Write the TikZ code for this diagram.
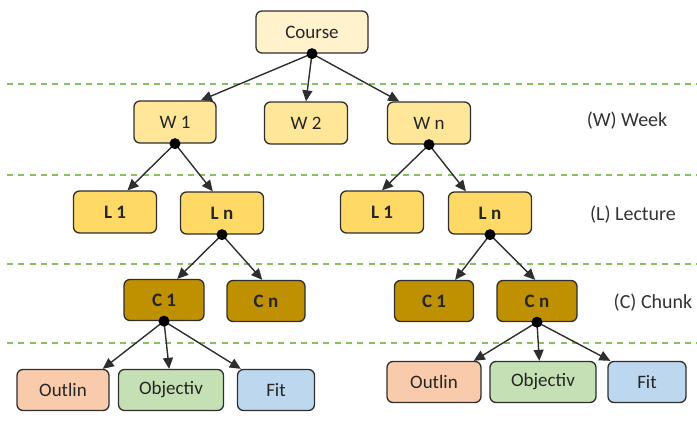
\documentclass[tikz,border=0pt]{standalone}
\usepackage{fontspec}
\setmainfont{Carlito}
\usetikzlibrary{arrows.meta}

\definecolor{coursefill}{HTML}{FFF2CC}
\definecolor{weekfill}{HTML}{FFE699}
\definecolor{lecfill}{HTML}{FFD966}
\definecolor{chunkfill}{HTML}{BF9000}
\definecolor{outlinfill}{HTML}{F8CBAD}
\definecolor{objfill}{HTML}{C5E0B4}
\definecolor{fitfill}{HTML}{BDD7EE}
\definecolor{sepgreen}{HTML}{86C061}
\definecolor{edge}{HTML}{2E2E2E}

\begin{document}
\begin{tikzpicture}[x=1pt, y=-1pt,
    box/.style={rectangle, rounded corners=6pt, draw=edge, line width=1.3pt, minimum height=42pt, inner sep=0pt, text=black!85, font=\fontsize{19}{22}\selectfont},
    small/.style={box, font=\fontsize{19}{22}\selectfont\bfseries},
    dot/.style={circle, fill=black, inner sep=0pt, minimum size=11pt},
    arr/.style={draw=edge, line width=1.4pt, -{Triangle[length=11pt, width=10pt]}},
    sep/.style={draw=sepgreen, line width=1.2pt, dash pattern=on 6pt off 5.3pt},
    lvl/.style={font=\fontsize{20}{24}\selectfont, text=black!80}]

        \useasboundingbox (0,0) rectangle (697,439);

        % level separators
        \foreach \y in {84,175,264,343}
            \draw[sep] (7,\y) -- (697,\y);

        % course and weeks
        \node[box, fill=coursefill, minimum width=112pt] (course) at (312,32) {Course};
        \node[box, fill=weekfill, minimum width=82pt] (w1) at (175,122) {W 1};
        \node[box, fill=weekfill, minimum width=83pt] (w2) at (306,123) {W 2};
        \node[box, fill=weekfill, minimum width=83pt] (wn) at (429,123) {W n};

        % lectures
        \node[small, fill=lecfill, minimum width=83pt] (l11) at (115,212) {L 1};
        \node[small, fill=lecfill, minimum width=83pt] (l1n) at (222,213) {L n};
        \node[small, fill=lecfill, minimum width=83pt] (l21) at (382,212) {L 1};
        \node[small, fill=lecfill, minimum width=83pt] (l2n) at (490,213) {L n};

        % chunks
        \node[small, fill=chunkfill, minimum width=80pt, minimum height=41pt] (c11) at (164,300) {C 1};
        \node[small, fill=chunkfill, minimum width=78pt, minimum height=41pt] (c1n) at (266,301) {C n};
        \node[small, fill=chunkfill, minimum width=79pt, minimum height=41pt] (c21) at (434,301) {C 1};
        \node[small, fill=chunkfill, minimum width=80pt, minimum height=41pt] (c2n) at (537,301) {C n};

        % chunk parts
        \node[box, fill=outlinfill, minimum width=92pt, minimum height=41pt] (o1) at (63,390) {Outlin};
        \node[box, fill=objfill, minimum width=105pt, minimum height=41pt] (b1) at (171,390) {Objectiv};
        \node[box, fill=fitfill, minimum width=77pt, minimum height=41pt] (f1) at (276,390) {Fit};
        \node[box, fill=outlinfill, minimum width=94pt, minimum height=41pt] (o2) at (434,382) {Outlin};
        \node[box, fill=objfill, minimum width=106pt, minimum height=41pt] (b2) at (543,382) {Objectiv};
        \node[box, fill=fitfill, minimum width=78pt, minimum height=41pt] (f2) at (647,382) {Fit};

        % level labels
        \node[lvl] (week) at (627,121) {(W) Week};
        \node[lvl] (lecture) at (633,215) {(L) Lecture};
        \node[lvl] (chunk) at (653,303) {(C) Chunk};

        % edges
        \foreach \c/\a in {w1/40, w2/90, wn/144}
            \draw[arr] (course.south) -- (\c.\a);
        \foreach \c/\a in {l11/60, l1n/113}
            \draw[arr] (w1.south) -- (\c.\a);
        \foreach \c/\a in {l21/90, l2n/138}
            \draw[arr] (wn.south) -- (\c.\a);
        \foreach \c/\a in {c11/58, c1n/100}
            \draw[arr] (l1n.south) -- (\c.\a);
        \foreach \c/\a in {c21/45, c2n/95}
            \draw[arr] (l2n.south) -- (\c.\a);
        \foreach \c/\a in {o1/28, b1/95, f1/149}
            \draw[arr] (c11.south) -- (\c.\a);
        \foreach \c/\a in {o2/28, b2/100, f2/150}
            \draw[arr] (c2n.south) -- (\c.\a);

        % branch points
        \foreach \p in {course,w1,wn,l1n,l2n,c11,c2n}
            \node[dot] (dot \p) at (\p.south) {};

\end{tikzpicture}
\end{document}
